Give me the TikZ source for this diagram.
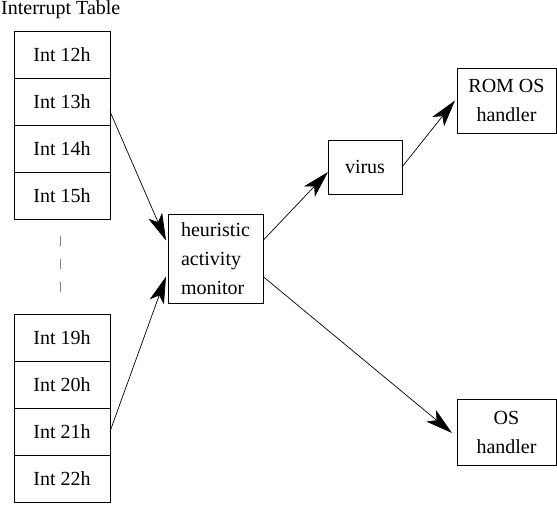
\documentclass[tikz,border=0pt]{standalone}
\usepackage{fontspec}
\setmainfont{Liberation Serif}
\usetikzlibrary{positioning,arrows.meta}

\begin{document}
\begin{tikzpicture}[x=1pt, y=1pt,
    every node/.style={font=\fontsize{20}{29}\selectfont},
    cell/.style={draw, line width=0.9pt, minimum width=96pt, minimum height=47pt, inner sep=0pt, outer sep=0pt},
    box/.style={draw, line width=0.9pt, inner sep=0pt, outer sep=0pt, align=center},
    arr/.style={-{Stealth[length=27pt, width=15pt, inset=7pt]}, line width=0.7pt}]
    \useasboundingbox (0,0) rectangle (557,504);

    % Interrupt table, upper part
    \node[anchor=base west, inner sep=0pt] (title) at (1,489) {Interrupt Table};
    \node[cell] (i12) at (62,449.5) {Int 12h};
    \node[cell, below=0pt of i12] (i13) {Int 13h};
    \node[cell, below=0pt of i13] (i14) {Int 14h};
    \node[cell, below=0pt of i14] (i15) {Int 15h};

    % gap in the table
    \coordinate (gaptop) at (60,268);
    \coordinate (gapend) at (60,212);
    \draw[gray, line width=0.8pt, dash pattern=on 10pt off 13pt] (gaptop) -- (gapend);

    % Interrupt table, lower part
    \node[cell] (i19) at (62,166.5) {Int 19h};
    \node[cell, below=0pt of i19] (i20) {Int 20h};
    \node[cell, below=0pt of i20] (i21) {Int 21h};
    \node[cell, below=0pt of i21] (i22) {Int 22h};

    % Monitor, virus and handlers
    \node[box, minimum width=95pt, minimum height=89pt, align=left] (ham) at (215.5,245.5) {heuristic\\activity\\monitor};
    \node[box, minimum width=74pt, minimum height=54pt] (vir) at (365,337) {virus};
    \node[box, minimum width=99pt, minimum height=65pt] (rom) at (506.5,403.5) {ROM OS\\handler};
    \node[box, minimum width=99pt, minimum height=66pt] (os) at (506.5,72) {OS\\handler};

    % Arrows
    \draw[arr] ([yshift=-10pt]i13.east) -- ([xshift=-2pt, yshift=18pt]ham.west);
    \draw[arr] (i21.east) -- ([xshift=-2pt, yshift=-18pt]ham.west);
    \draw[arr] ([yshift=18pt]ham.east) -- ([yshift=-5pt]vir.west);
    \draw[arr] (vir.east) -- ([xshift=-2pt]rom.west);
    \draw[arr] ([yshift=-18pt]ham.east) -- ([xshift=-5pt, yshift=-1pt]os.west);

\end{tikzpicture}
\end{document}
